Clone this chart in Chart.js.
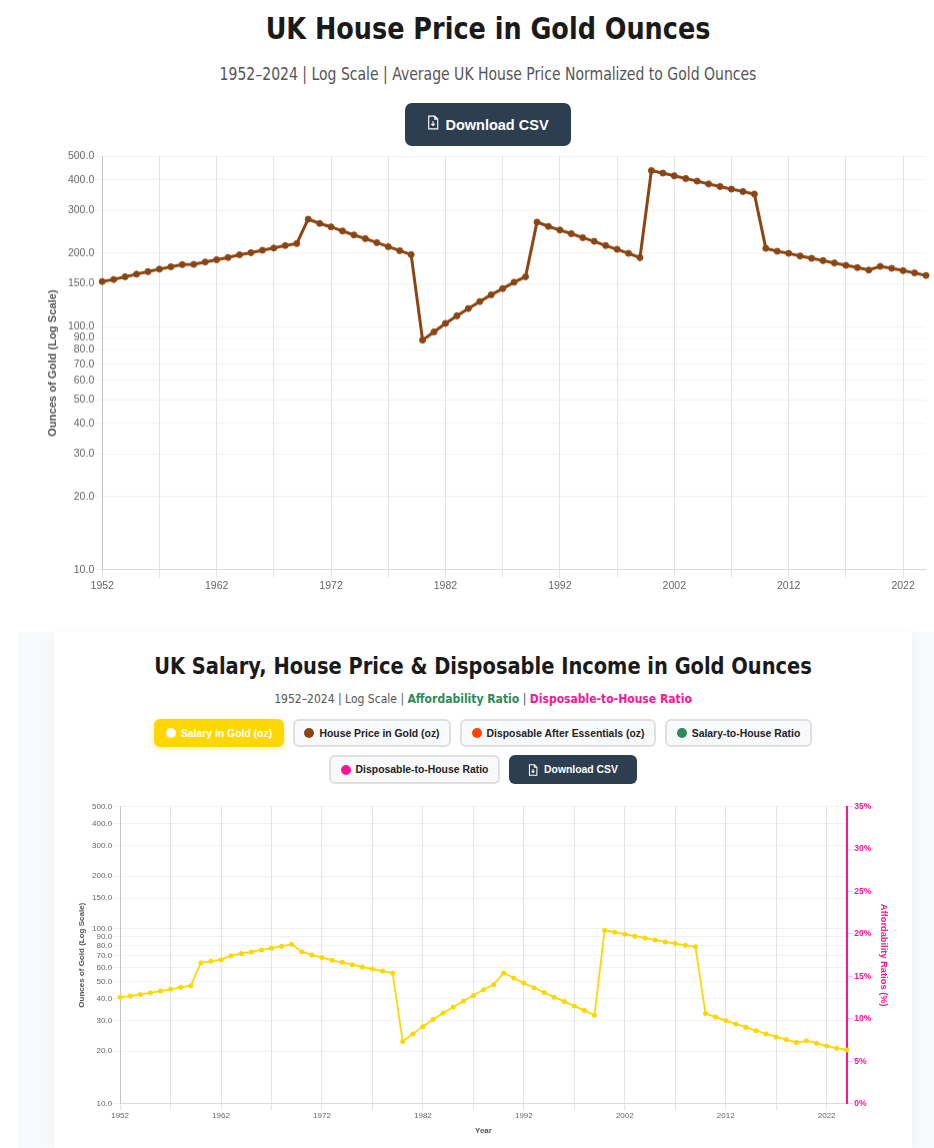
<!DOCTYPE html>
<html>
<head>
<meta charset="utf-8">
<title>UK House Price in Gold Ounces</title>
<script src="https://cdn.jsdelivr.net/npm/chart.js@4"></script>
<style>
    html, body { margin: 0; padding: 0; background: #fff; }
    body { position: relative; width: 934px; height: 1148px; overflow: hidden; font-family: "DejaVu Sans", sans-serif; font-stretch: condensed; color: #1a1a1a; }
    h1, h2, p { margin: 0; text-align: center; position: absolute; white-space: nowrap; }
    h1 { left: 42px; width: 892px; top: 10px; font-size: 30px; line-height: 38px; transform: scaleX(0.945); }
    .sub1 { left: 42px; width: 892px; top: 63px; font-size: 17px; line-height: 22px; color: #555; transform: scaleX(0.916); }
    .btn { font-family: "Liberation Sans", sans-serif; font-weight: bold; font-stretch: normal; display: inline-flex; align-items: center; justify-content: center; box-sizing: border-box; white-space: nowrap; }
    .dl1 { position: absolute; left: 405px; top: 103px; width: 166px; height: 43px; background: #2c3e50; color: #fff; border-radius: 7px; font-size: 14.5px; }
    .dl1 svg { width: 12px; height: 15px; margin-right: 6px; margin-top: -5px; }
    .wrap { position: absolute; }
    #chartPrecio { left: 46px; top: 150px; width: 888px; height: 443.5px; }
    .panel { position: absolute; left: 18px; top: 632px; width: 916px; height: 516px; background: #f8f9fa; }
    .card { position: absolute; left: 54px; top: 632px; width: 858px; height: 516px; background: #fff; box-shadow: 0 0 12px rgba(0,0,0,0.04); }
    h2 { left: 54px; width: 858px; top: 651px; font-size: 23.5px; line-height: 30px; transform: scaleX(0.92); }
    .sub2 { left: 54px; width: 858px; top: 690px; font-size: 13px; line-height: 18px; color: #555; transform: scaleX(0.925); }
    .sub2 b.g { color: #2E8B57; }
    .sub2 b.p { color: #FF1493; }
    .fila { position: absolute; left: 54px; width: 858px; display: flex; justify-content: center; gap: 9px; }
    .f1 { top: 719px; height: 28px; }
    .f2 { top: 755px; height: 29px; }
    .tog { height: 100%; border: 2px solid #e0e0e0; background: #f8f9fa; color: #222; border-radius: 6px; font-size: 10.4px; }
    .tog i { width: 10px; height: 10px; border-radius: 50%; margin-right: 5px; display: block; }
    .tog.on { background: #FFD700; border-color: #FFD700; color: #fff; box-shadow: 0 2px 6px rgba(255,215,0,0.35); }
    .dl2 { height: 100%; width: 128px; background: #2c3e50; color: #fff; border-radius: 6px; font-size: 10.4px; }
    .dl2 svg { width: 10px; height: 12px; margin-right: 6px; }
    #chartOro { left: 77px; top: 800px; width: 812px; height: 336px; }
</style>
</head>
<body>
<h1>UK House Price in Gold Ounces</h1>
<p class="sub1">1952–2024 | Log Scale | Average UK House Price Normalized to Gold Ounces</p>
<div class="btn dl1"><svg viewBox="0 0 14 17" fill="none" stroke="#fff" stroke-width="1.3"><path d="M2 1h7l3.5 3.5V16H2zM9 1v3.5h3.5M7 7v5M5 10l2 2 2-2"/></svg>Download CSV</div>
<div class="wrap" id="chartPrecio"><canvas id="canvasPrecio"></canvas></div>

<div class="panel"></div>
<div class="card"></div>
<h2>UK Salary, House Price &amp; Disposable Income in Gold Ounces</h2>
<p class="sub2">1952–2024 | Log Scale | <b class="g">Affordability Ratio</b> | <b class="p">Disposable-to-House Ratio</b></p>
<div class="fila f1">
    <div class="btn tog on" style="width:130px"><i style="background:#fff"></i>Salary in Gold (oz)</div>
    <div class="btn tog" style="width:158px"><i style="background:#8B4513"></i>House Price in Gold (oz)</div>
    <div class="btn tog" style="width:196px"><i style="background:#FF4500"></i>Disposable After Essentials (oz)</div>
    <div class="btn tog" style="width:147px"><i style="background:#2E8B57"></i>Salary-to-House Ratio</div>
</div>
<div class="fila f2">
    <div class="btn tog" style="width:171px"><i style="background:#FF1493"></i>Disposable-to-House Ratio</div>
    <div class="btn dl2"><svg viewBox="0 0 14 17" fill="none" stroke="#fff" stroke-width="1.5"><path d="M2 1h7l3.5 3.5V16H2zM9 1v3.5h3.5M7 7v5M5 10l2 2 2-2"/></svg>Download CSV</div>
</div>
<div class="wrap" id="chartOro"><canvas id="canvasOro"></canvas></div>

<script>
// Datos
const years = [
    1952, 1953, 1954, 1955, 1956, 1957, 1958, 1959, 1960, 1961,
    1962, 1963, 1964, 1965, 1966, 1967, 1968, 1969, 1970, 1971,
    1972, 1973, 1974, 1975, 1976, 1977, 1978, 1979, 1980, 1981,
    1982, 1983, 1984, 1985, 1986, 1987, 1988, 1989, 1990, 1991,
    1992, 1993, 1994, 1995, 1996, 1997, 1998, 1999, 2000, 2001,
    2002, 2003, 2004, 2005, 2006, 2007, 2008, 2009, 2010, 2011,
    2012, 2013, 2014, 2015, 2016, 2017, 2018, 2019, 2020, 2021,
    2022, 2023, 2024
];
const housePriceOz = [
    153, 156, 160, 164, 168, 172, 176, 179.5, 180, 184,
    188, 192, 197, 201, 205.6, 210, 215, 219, 276, 265,
    256.5, 246.7, 237.6, 229.6, 221, 212.7, 204.8, 197.3, 87.9, 95,
    103, 110.6, 118.5, 126.6, 135, 143, 152, 160, 268.5, 257.6,
    249, 240.5, 231.7, 223.8, 215, 207.5, 199.7, 191.8, 437, 426.6,
    416, 405.5, 395.5, 385, 375.8, 366.7, 358.5, 350, 209.4, 203.7,
    199.7, 194.8, 190.6, 186.4, 182.4, 178.3, 174.6, 170.6, 176.6, 173.4,
    169.6, 166, 162
];
const salaryOz = [
    40.6, 41.3, 42.2, 43.1, 44.1, 45.1, 46.3, 47.3, 64.1, 65.2,
    66.7, 70.3, 72.2, 73.8, 75.8, 77.5, 79.5, 81.7, 73.8, 71,
    68.5, 66.1, 64.4, 62.4, 60.5, 59, 57.4, 55.9, 22.7, 25.1,
    27.7, 30.3, 33, 35.8, 38.6, 41.6, 44.9, 48, 55.9, 52.4,
    49, 46.1, 43.3, 40.7, 38.5, 36.2, 34.2, 32.1, 98.2, 95.7,
    93.2, 90.8, 88.8, 86.5, 84.2, 82.4, 80.5, 78.9, 32.8, 31.3,
    29.9, 28.6, 27.4, 26.2, 25.1, 24.1, 23.3, 22.4, 22.9, 22.2,
    21.4, 20.8, 20.3
];
const xTicks = [1952, 1957, 1962, 1967, 1972, 1977, 1982, 1987, 1992, 1997, 2002, 2007, 2012, 2017, 2022];
const xLabels = [1952, 1962, 1972, 1982, 1992, 2002, 2012, 2022];
const logTicks = [10, 20, 30, 40, 50, 60, 70, 80, 90, 100, 150, 200, 300, 400, 500];

const FUENTE = '"Liberation Sans", Arial, sans-serif';
const GRID_X = 'rgba(0,0,0,0.1)';
const GRID_Y = 'rgba(0,0,0,0.05)';

function puntos(valores) {
    return valores.map((v, i) => ({ x: years[i], y: v }));
}

function ejeX(fontSize, titulo, largoMarca, separacion) {
    return {
        type: 'linear',
        min: 1952,
        max: 2024,
        title: titulo,
        afterBuildTicks: function (scale) {
            scale.ticks = xTicks.map(v => ({ value: v }));
        },
        grid: { color: GRID_X, tickLength: largoMarca },
        ticks: {
            autoSkip: false,
            maxRotation: 0,
            padding: separacion,
            color: '#666',
            font: { family: FUENTE, size: fontSize },
            // una etiqueta cada 10 anios
            callback: function (value) {
                return xLabels.includes(value) ? String(value) : '';
            }
        }
    };
}

function ejeY(fontSize, tituloSize, separacionTitulo) {
    return {
        type: 'logarithmic',
        min: 10,
        max: 500,
        afterBuildTicks: function (scale) {
            scale.ticks = logTicks.map(v => ({ value: v }));
        },
        title: {
            display: true,
            text: 'Ounces of Gold (Log Scale)',
            color: '#555',
            padding: { top: 0, bottom: separacionTitulo },
            font: { family: FUENTE, size: tituloSize, weight: 'bold' }
        },
        grid: { color: GRID_Y, tickLength: 8 },
        border: { color: 'rgba(0,0,0,0.15)' },
        ticks: {
            autoSkip: false,
            padding: 0,
            color: '#666',
            font: { family: FUENTE, size: fontSize },
            callback: function (value) {
                return Number(value).toFixed(1);
            }
        }
    };
}

function inicializarGraficoCasa() {
    const ctx = document.getElementById('canvasPrecio').getContext('2d');
    new Chart(ctx, {
        type: 'line',
        data: {
            datasets: [{
                label: 'House Price in Gold (oz)',
                data: puntos(housePriceOz),
                borderColor: '#8B4513',
                backgroundColor: '#8B4513',
                borderWidth: 3,
                pointRadius: 3,
                pointBorderWidth: 1,
                tension: 0
            }]
        },
        options: {
            responsive: true,
            maintainAspectRatio: false,
            animation: false,
            clip: false,
            layout: { padding: { right: 8 } },
            plugins: { legend: { display: false } },
            scales: {
                x: ejeX(10.5, { display: false }, 8, 2),
                y: ejeY(10.5, 11.2, 8.5)
            }
        }
    });
}

function inicializarGraficoOro() {
    const ctx = document.getElementById('canvasOro').getContext('2d');
    new Chart(ctx, {
        type: 'line',
        data: {
            datasets: [{
                label: 'Salary in Gold (oz)',
                data: puntos(salaryOz),
                borderColor: '#FFD700',
                backgroundColor: '#FFD700',
                borderWidth: 1.8,
                pointRadius: 2.5,
                pointBorderWidth: 0,
                tension: 0
            }]
        },
        options: {
            responsive: true,
            maintainAspectRatio: false,
            animation: false,
            clip: false,
            plugins: { legend: { display: false } },
            scales: {
                x: ejeX(8, {
                    display: true,
                    text: 'Year',
                    color: '#555',
                    padding: { top: 5, bottom: 0 },
                    font: { family: FUENTE, size: 8, weight: 'bold' }
                }, 6, 1),
                y: ejeY(8, 8, 5.5),
                // eje de ratios, sin series visibles
                ratio: {
                    type: 'linear',
                    position: 'right',
                    min: 0,
                    max: 35,
                    title: {
                        display: true,
                        text: 'Affordability Ratios (%)',
                        color: '#FF1493',
                        padding: { top: 0, bottom: 5 },
                        font: { family: FUENTE, size: 9.3, weight: 'bold' }
                    },
                    border: { color: '#FF1493', width: 2 },
                    grid: { drawOnChartArea: false, color: 'rgba(255,20,147,0.25)', tickLength: 6 },
                    ticks: {
                        stepSize: 5,
                        padding: 1.5,
                        color: '#FF1493',
                        font: { family: FUENTE, size: 8.5, weight: 'bold' },
                        callback: function (value) {
                            return value + '%';
                        }
                    }
                }
            }
        }
    });
}

inicializarGraficoCasa();
inicializarGraficoOro();
</script>
</body>
</html>
